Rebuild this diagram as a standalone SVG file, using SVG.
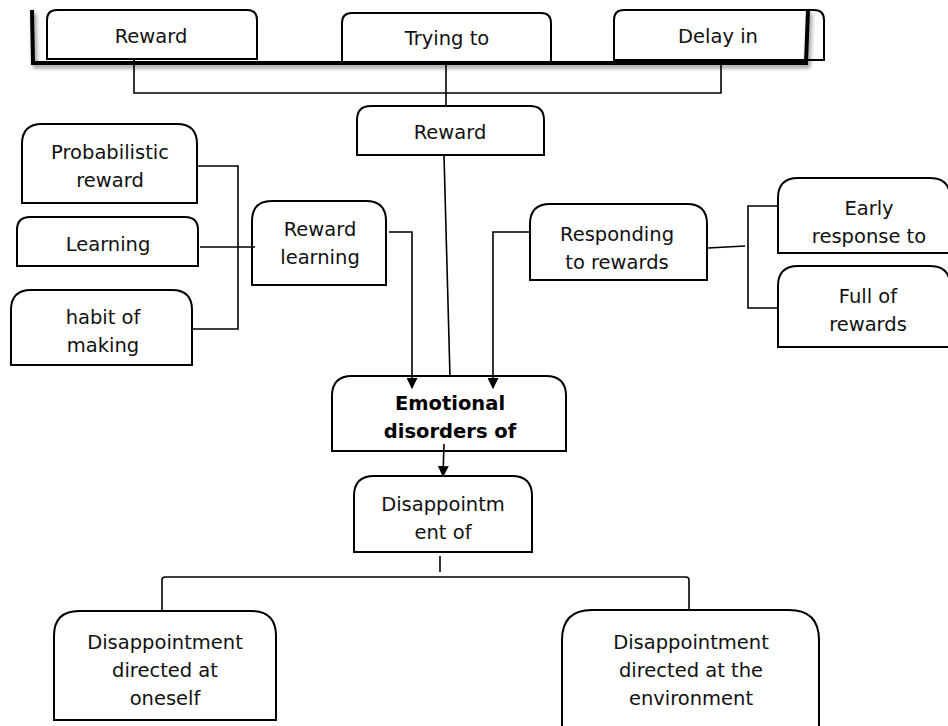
<svg xmlns="http://www.w3.org/2000/svg" width="948" height="726" viewBox="0 0 948 726">
<style>
.box{fill:#fff;stroke:#000;stroke-width:2}
.t{font-family:"DejaVu Sans","Verdana",sans-serif;font-size:19.5px;fill:#111;text-anchor:middle}
.b{font-weight:bold;fill:#000}
.c{fill:none;stroke:#000;stroke-width:1.6}
</style>
<defs>
<marker id="arr" viewBox="0 0 10 10" refX="9" refY="5" markerWidth="11" markerHeight="11" markerUnits="userSpaceOnUse" orient="auto"><path d="M0,0 L10,5 L0,10 Z" fill="#000"/></marker>
<filter id="sh" x="-5%" y="-50%" width="110%" height="200%"><feGaussianBlur in="SourceAlpha" stdDeviation="2"/><feOffset dx="2" dy="3"/><feComponentTransfer><feFuncA type="linear" slope="0.45"/></feComponentTransfer><feMerge><feMergeNode/><feMergeNode in="SourceGraphic"/></feMerge></filter>
</defs>
<rect width="948" height="726" fill="#fff"/>
<g id="n-reward-top"><path class="box" d="M47,59 V20 Q47,10 57,10 H247 Q257,10 257,20 V59 Z"/><text class="t" x="151" y="43">Reward</text></g>
<g id="n-trying"><path class="box" d="M342,62 V23 Q342,13 352,13 H541 Q551,13 551,23 V62"/><text class="t" x="447" y="45">Trying to</text></g>
<g id="n-delay"><path class="box" d="M614,60 V20 Q614,10 624,10 H814 Q824,10 824,20 V60 Z"/><text class="t" x="718" y="43">Delay in</text></g>
<g id="bracket-top"><path d="M32,10 L33,63 L806,63 L808,10" fill="none" stroke="#000" stroke-width="4" filter="url(#sh)"/></g>
<g id="n-reward"><path class="box" d="M357,155 V120 Q357,106 371,106 H530 Q544,106 544,120 V155 Z"/><text class="t" x="450" y="139">Reward</text></g>
<g id="n-prob"><path class="box" d="M22,203 V144 Q22,124 42,124 H177 Q197,124 197,144 V203 Z"/><text class="t" x="110" y="159">Probabilistic</text><text class="t" x="110" y="187">reward</text></g>
<g id="n-learning"><path class="box" d="M17,266 V230 Q17,217 30,217 H185 Q198,217 198,230 V266 Z"/><text class="t" x="108" y="251">Learning</text></g>
<g id="n-habit"><path class="box" d="M11,365 V310 Q11,290 31,290 H172 Q192,290 192,310 V365 Z"/><text class="t" x="103" y="324">habit of</text><text class="t" x="103" y="352">making</text></g>
<g id="n-rlearning"><path class="box" d="M252,285 V221 Q252,201 272,201 H366 Q386,201 386,221 V285 Z"/><text class="t" x="320" y="236">Reward</text><text class="t" x="320" y="264">learning</text></g>
<g id="n-responding"><path class="box" d="M530,280 V224 Q530,204 550,204 H687 Q707,204 707,224 V280 Z"/><text class="t" x="617" y="241">Responding</text><text class="t" x="617" y="269">to rewards</text></g>
<g id="n-early"><path class="box" d="M778,253 V198 Q778,178 798,178 H930 Q950,178 950,198 V253 Z"/><text class="t" x="869" y="215">Early</text><text class="t" x="869" y="243">response to</text></g>
<g id="n-full"><path class="box" d="M778,347 V286 Q778,266 798,266 H930 Q950,266 950,286 V347 Z"/><text class="t" x="868" y="303">Full of</text><text class="t" x="868" y="331">rewards</text></g>
<g id="n-emotional"><path class="box" d="M332,451 V396 Q332,376 352,376 H546 Q566,376 566,396 V451 Z"/><text class="t b" x="450" y="410">Emotional</text><text class="t b" x="450" y="438">disorders of</text></g>
<g id="n-disapp"><path class="box" d="M354,552 V496 Q354,476 374,476 H512 Q532,476 532,496 V552 Z"/><text class="t" x="443" y="511">Disappointm</text><text class="t" x="443" y="539">ent of</text></g>
<g id="n-oneself"><path class="box" d="M54,720 V636 Q54,611 79,611 H251 Q276,611 276,636 V720 Z"/><text class="t" x="165" y="649">Disappointment</text><text class="t" x="165" y="677">directed at</text><text class="t" x="165" y="705">oneself</text></g>
<g id="n-environment"><path class="box" d="M562,730 V640 Q562,610 592,610 H789 Q819,610 819,640 V730"/><text class="t" x="691" y="649">Disappointment</text><text class="t" x="691" y="677">directed at the</text><text class="t" x="691" y="705">environment</text></g>
<g id="connectors">
<path class="c" d="M134,60 V93 H721 V62"/>
<path class="c" d="M446,64 V107"/>
<path class="c" d="M444,155 L450,377"/>
<path class="c" d="M196,166 H238 V329 H192"/>
<path class="c" d="M200,247 H255"/>
<path class="c" d="M389,232 H412 V388" marker-end="url(#arr)"/>
<path class="c" d="M530,232 H493 V388" marker-end="url(#arr)"/>
<path class="c" d="M708,248 L745,246"/>
<path class="c" d="M778,206 H748 V308 H778"/>
<path class="c" d="M444,444 L443,476" marker-end="url(#arr)"/>
<path class="c" d="M440,556 V572"/>
<path class="c" d="M162,610 V580 Q162,577 165,577 H686 Q689,577 689,580 V610"/>
</g>
</svg>
